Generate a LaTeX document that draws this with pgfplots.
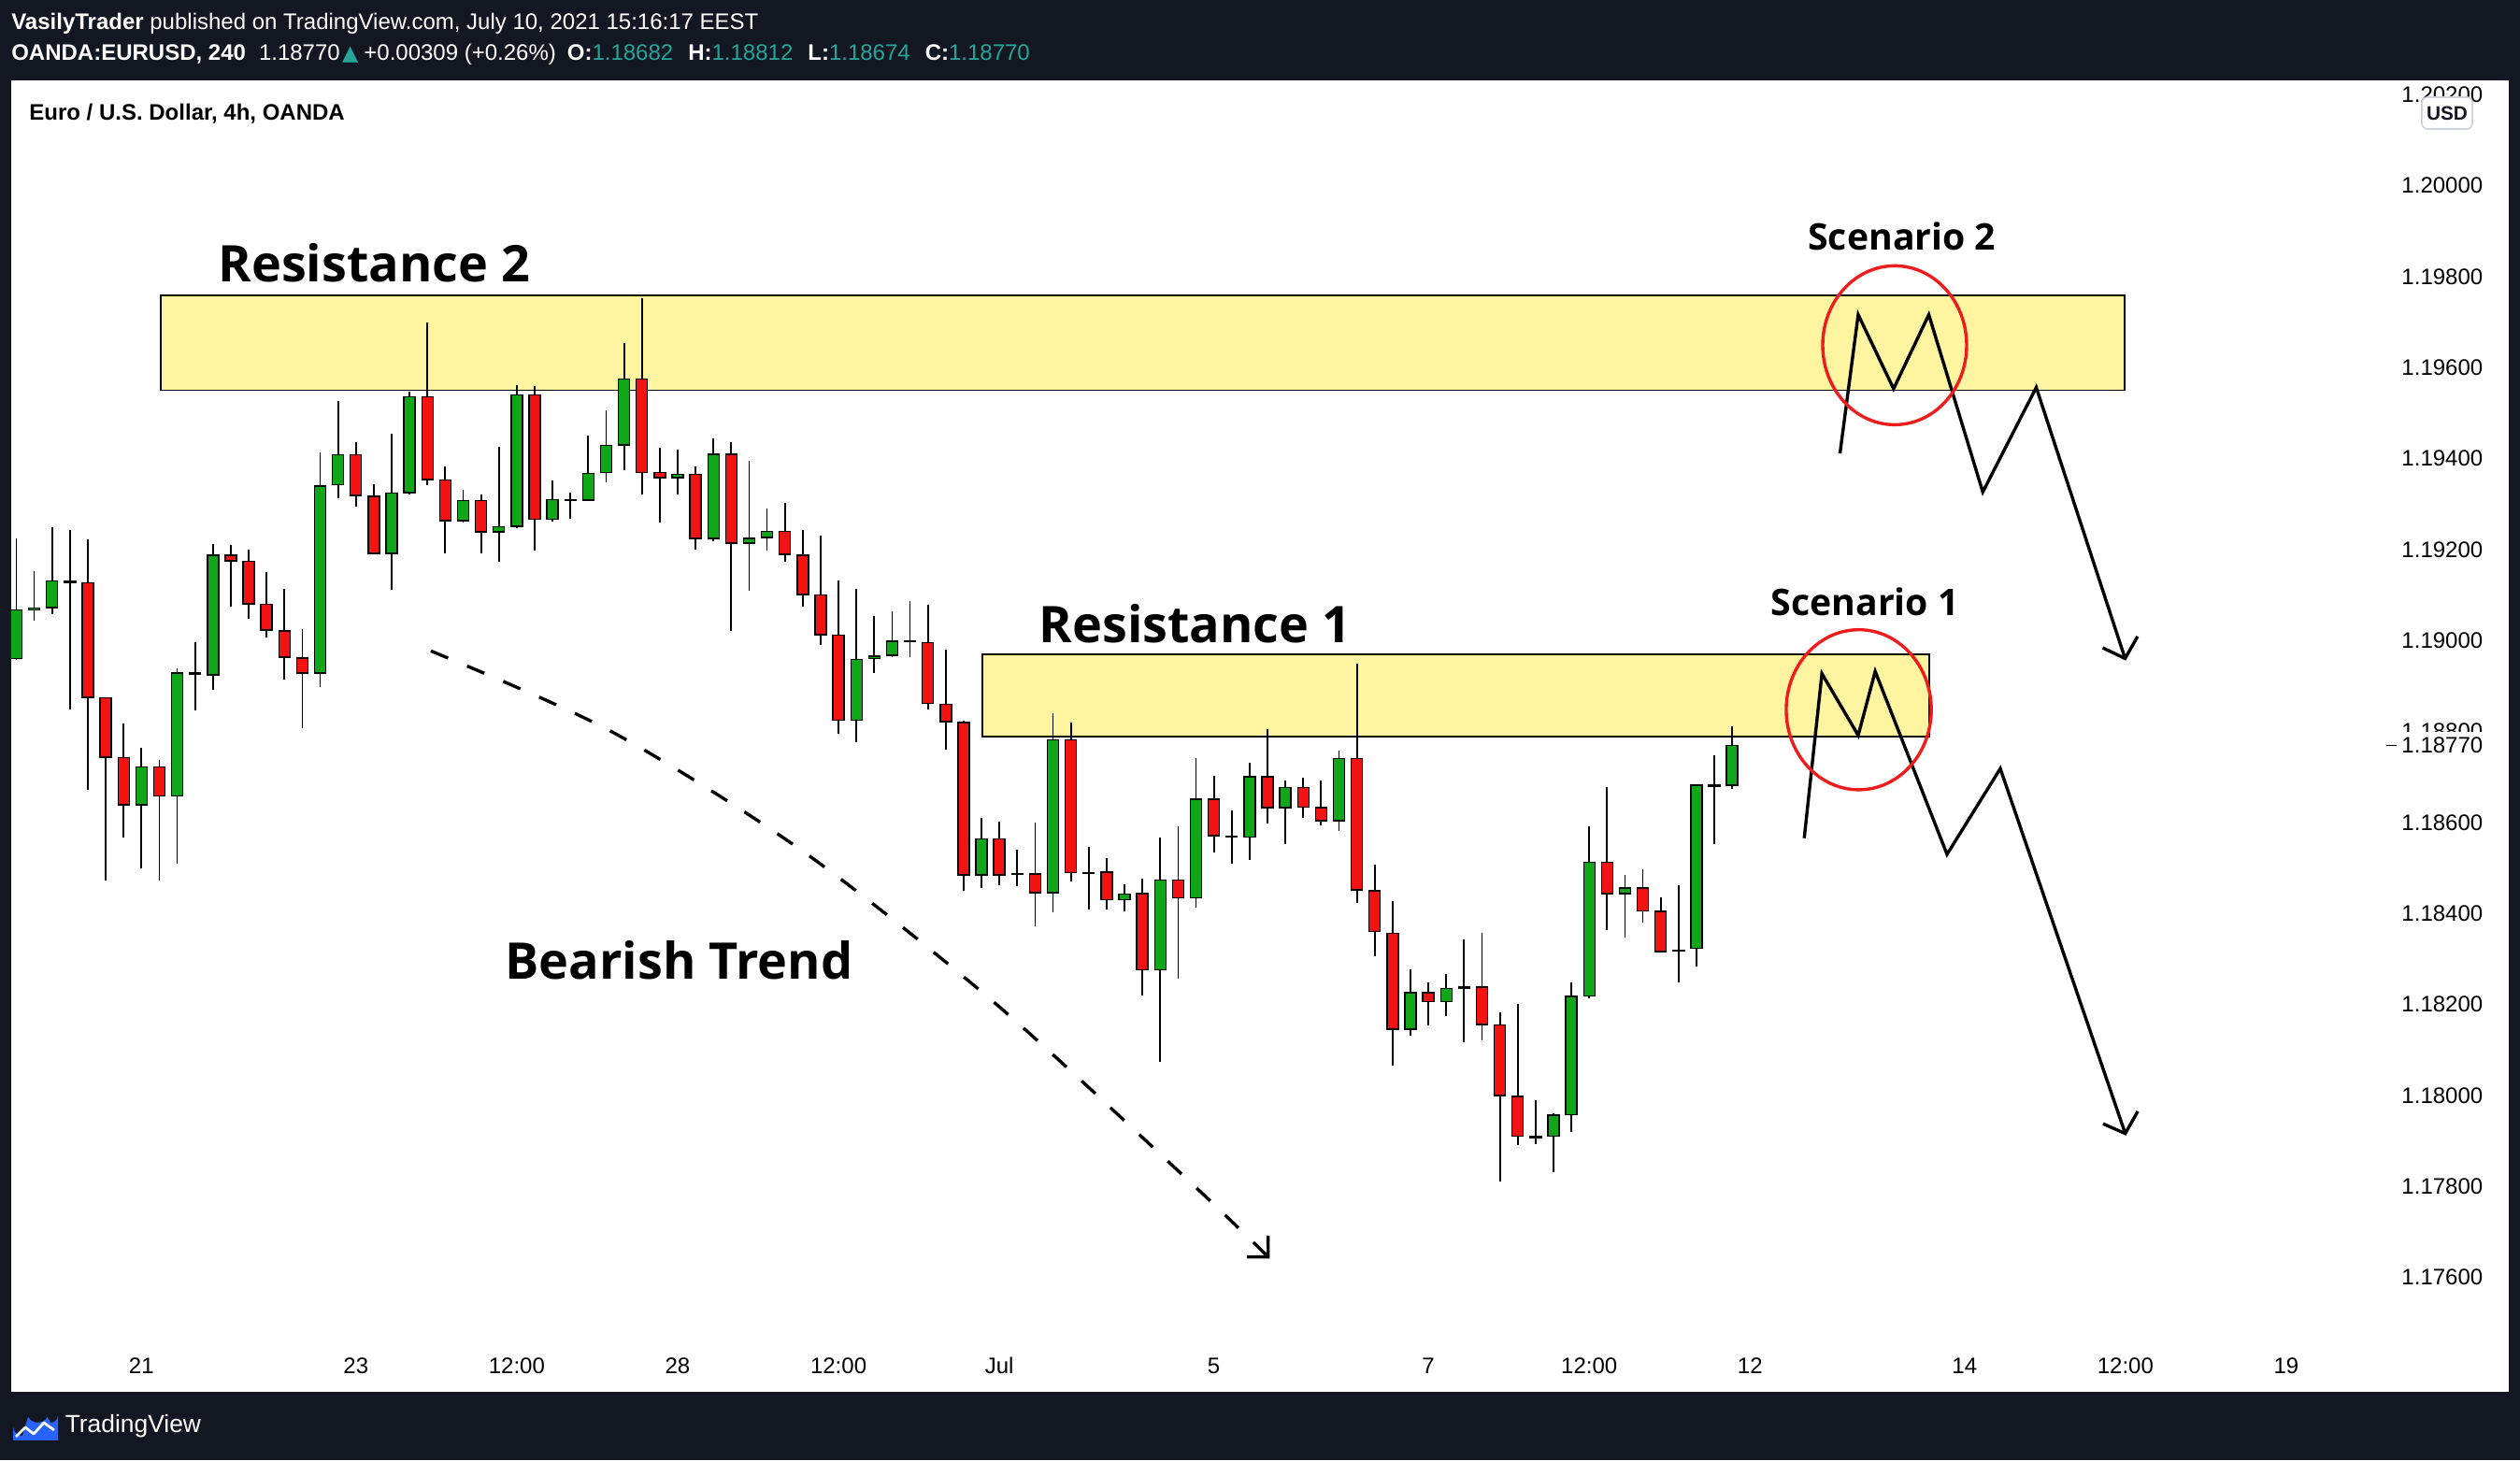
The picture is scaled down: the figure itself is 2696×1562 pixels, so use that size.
\documentclass[border=0pt]{standalone}
\usepackage{pgfplots}
\pgfplotsset{compat=1.18}
\usepackage{pgfplotstable}
\usepackage{fontspec}
\setmainfont{Liberation Sans}
\newfontfamily\annotfont{Open Sans}
\newfontfamily\symbfont{DejaVu Sans}
\usetikzlibrary{arrows.meta}

\definecolor{tvbg}{HTML}{131722}
\definecolor{cgreen}{RGB}{17,166,26}
\definecolor{cred}{RGB}{244,19,19}
\definecolor{boxy}{RGB}{255,245,160}
\definecolor{tealc}{HTML}{26A69A}
\definecolor{circred}{RGB}{238,28,28}
\definecolor{tvblue}{HTML}{2962FF}
\definecolor{usdgray}{HTML}{D1D4DC}

% 4h candles, index 0 = 21 Jun 00:00
\pgfplotstableread{
i O H L C
-7 1.18960 1.19225 1.18958 1.19067
-6 1.19067 1.19153 1.19043 1.19072
-5 1.19073 1.19249 1.19058 1.19131
-4 1.19130 1.19243 1.18849 1.19128
-3 1.19127 1.19222 1.18671 1.18875
-2 1.18874 1.18874 1.18472 1.18744
-1 1.18743 1.18818 1.18568 1.18639
0 1.18639 1.18764 1.18499 1.18722
1 1.18722 1.18737 1.18473 1.18658
2 1.18658 1.18938 1.18510 1.18929
3 1.18929 1.18996 1.18846 1.18926
4 1.18925 1.19212 1.18892 1.19188
5 1.19188 1.19210 1.19075 1.19175
6 1.19174 1.19200 1.19047 1.19081
7 1.19080 1.19151 1.19006 1.19023
8 1.19021 1.19114 1.18915 1.18964
9 1.18962 1.19025 1.18808 1.18929
10 1.18929 1.19413 1.18897 1.19340
11 1.19343 1.19526 1.19314 1.19408
12 1.19408 1.19436 1.19295 1.19319
13 1.19317 1.19343 1.19189 1.19192
14 1.19192 1.19454 1.19112 1.19324
15 1.19325 1.19548 1.19322 1.19536
16 1.19536 1.19699 1.19341 1.19354
17 1.19353 1.19382 1.19191 1.19264
18 1.19264 1.19331 1.19259 1.19308
19 1.19308 1.19321 1.19191 1.19239
20 1.19239 1.19427 1.19173 1.19250
21 1.19251 1.19561 1.19247 1.19540
22 1.19540 1.19560 1.19197 1.19267
23 1.19267 1.19352 1.19261 1.19310
24 1.19310 1.19325 1.19267 1.19308
25 1.19309 1.19451 1.19306 1.19367
26 1.19369 1.19506 1.19347 1.19429
27 1.19430 1.19655 1.19375 1.19575
28 1.19575 1.19753 1.19322 1.19370
29 1.19369 1.19424 1.19260 1.19358
30 1.19358 1.19420 1.19322 1.19365
31 1.19365 1.19383 1.19199 1.19225
32 1.19225 1.19445 1.19218 1.19410
33 1.19410 1.19436 1.19021 1.19214
34 1.19214 1.19395 1.19109 1.19225
35 1.19227 1.19290 1.19197 1.19240
36 1.19240 1.19302 1.19174 1.19190
37 1.19188 1.19243 1.19074 1.19101
38 1.19100 1.19231 1.18990 1.19013
39 1.19012 1.19132 1.18795 1.18825
40 1.18825 1.19114 1.18776 1.18958
41 1.18960 1.19054 1.18928 1.18966
42 1.18968 1.19064 1.18963 1.18999
43 1.18999 1.19086 1.18964 1.18997
44 1.18995 1.19079 1.18849 1.18862
45 1.18860 1.18980 1.18760 1.18822
46 1.18820 1.18823 1.18450 1.18485
47 1.18485 1.18611 1.18457 1.18564
48 1.18564 1.18601 1.18463 1.18485
49 1.18486 1.18540 1.18460 1.18488
50 1.18487 1.18599 1.18372 1.18446
51 1.18446 1.18840 1.18402 1.18782
52 1.18782 1.18819 1.18470 1.18490
53 1.18490 1.18546 1.18408 1.18488
54 1.18491 1.18522 1.18408 1.18430
55 1.18430 1.18464 1.18404 1.18443
56 1.18444 1.18476 1.18219 1.18276
57 1.18276 1.18568 1.18073 1.18474
58 1.18474 1.18591 1.18256 1.18434
59 1.18434 1.18742 1.18413 1.18651
60 1.18651 1.18703 1.18534 1.18571
61 1.18570 1.18626 1.18510 1.18568
62 1.18568 1.18731 1.18517 1.18701
63 1.18701 1.18806 1.18597 1.18633
64 1.18633 1.18692 1.18552 1.18677
65 1.18677 1.18698 1.18610 1.18634
66 1.18633 1.18692 1.18594 1.18604
67 1.18604 1.18758 1.18581 1.18741
68 1.18741 1.18950 1.18423 1.18452
69 1.18450 1.18508 1.18307 1.18360
70 1.18357 1.18427 1.18066 1.18146
71 1.18146 1.18278 1.18132 1.18226
72 1.18226 1.18248 1.18153 1.18207
73 1.18207 1.18266 1.18174 1.18235
74 1.18236 1.18343 1.18116 1.18238
75 1.18238 1.18358 1.18122 1.18156
76 1.18155 1.18182 1.17811 1.18000
77 1.17998 1.18201 1.17891 1.17910
78 1.17910 1.17989 1.17892 1.17907
79 1.17910 1.17960 1.17832 1.17957
80 1.17958 1.18249 1.17920 1.18218
81 1.18219 1.18591 1.18214 1.18512
82 1.18512 1.18677 1.18364 1.18444
83 1.18444 1.18484 1.18348 1.18456
84 1.18456 1.18498 1.18381 1.18406
85 1.18405 1.18435 1.18314 1.18316
86 1.18318 1.18463 1.18248 1.18320
87 1.18323 1.18685 1.18284 1.18682
88 1.18680 1.18747 1.18552 1.18682
89 1.18682 1.18812 1.18674 1.18770
}\candles

\pgfplotsset{chartgeom/.style={at={(3pt,18.25pt)}, anchor=south west,
  scale only axis, width=668pt, height=350.75pt,
  xmin=-7.286, xmax=132.45, ymin=348.4, ymax=3231.7, enlargelimits=false}}

\newcommand\tickfont{\fontsize{6}{7}\selectfont}
\newcommand\annotsize{\annotfont\bfseries\fontsize{13.5}{16}\selectfont}
\newcommand\scensize{\annotfont\bfseries\fontsize{9.8}{12}\selectfont}

\begin{document}
\begin{tikzpicture}
\begin{scope}[x=0.25pt,y=-0.25pt,yshift=390.5pt]
\fill[tvbg] (0,0) rectangle (2696,1562);
\fill[white] (12,86) rectangle (2684,1489);
\end{scope}

% ---------- main axis: zones, wicks, annotations, ticks
\begin{axis}[chartgeom,
  axis line style={draw=none}, major tick length=0pt, tick style={draw=none},
  ytick={600,800,1000,1200,1400,1600,1800,2000,2200,2400,2600,2800,3000,3200},
  yticklabels={1.17600,1.17800,1.18000,1.18200,1.18400,1.18600,1.18800,1.19000,1.19200,1.19400,1.19600,1.19800,1.20000,1.20200},
  yticklabel pos=right,
  yticklabel style={anchor=east, inner sep=0pt, xshift=-6.75pt, font=\tickfont, text=black},
  xtick={0,12,21,30,39,48,60,72,81,90,102,111,120},
  xticklabels={21,23,12:00,28,12:00,Jul,5,7,12:00,12,14,12:00,19},
  xticklabel style={anchor=base, inner sep=0pt, yshift=5pt, font=\tickfont, text=black},
]
% resistance zones
\addplot[fill=boxy, draw=black, line width=0.4pt] coordinates {(1.08,2550) (110.97,2550) (110.97,2759) (1.08,2759)} --cycle;
\addplot[fill=boxy, draw=black, line width=0.4pt] coordinates {(47.05,1789.4) (100.02,1789.4) (100.02,1969.9) (47.05,1969.9)} --cycle;

% wicks
\addplot[draw=none, mark=none, forget plot,
  error bars/.cd, y dir=plus, y explicit, error mark=none,
  error bar style={draw=black, solid, line width=0.45pt}]
  table[x=i, y expr={(\thisrow{L}-1.17)*100000}, y error expr={(\thisrow{H}-\thisrow{L})*100000}] {\candles};

% bearish trend dashed curve
\addplot[smooth, black, line width=0.85pt, dash pattern=on 5pt off 5.5pt,
  -{Straight Barb[length=4pt,width=8pt,line width=0.85pt]}]
  coordinates {(16.19,1977.3) (26.26,1800.8) (37.05,1535.6) (47.84,1200.1) (58.63,811.2) (63.13,641.7)};

% scenario 2
\addplot[black, line width=0.85pt, line join=miter] coordinates {(95.03,2411.5) (96.05,2716.5) (98.03,2553.7) (100.0,2716.5) (103.02,2326.7) (106.01,2556.6) (110.98,1960.7)};
\addplot[black, line width=0.85pt, line join=miter] coordinates {(109.73,1984.1) (110.98,1960.7) (111.68,2009.0)};
% scenario 1
\addplot[black, line width=0.85pt, line join=miter] coordinates {(93.03,1565.6) (94.02,1927.3) (96.05,1791.7) (97.0,1932.3) (101.02,1530.1) (104.0,1718.6) (110.99,916.3)};
\addplot[black, line width=0.85pt, line join=miter] coordinates {(109.75,937.7) (110.99,916.3) (111.69,965.0)};

\draw[circred, line width=0.85pt] (axis cs:98.09,2649.3) ellipse [x radius=19.25pt, y radius=21.25pt];
\draw[circred, line width=0.85pt] (axis cs:96.08,1848.0) ellipse [x radius=19.4pt, y radius=21.4pt];

\node[anchor=base, inner sep=0pt, font=\annotsize] at (axis cs:13.03,2788.4) {Resistance 2};
\node[anchor=base, inner sep=0pt, font=\annotsize] at (axis cs:58.95,1994.6) {Resistance 1};
\node[anchor=base, inner sep=0pt, font=\annotsize] at (axis cs:30.07,1255) {Bearish Trend};
\node[anchor=base, inner sep=0pt, font=\scensize] at (axis cs:98.5,2858.1) {Scenario 2};
\node[anchor=base, inner sep=0pt, font=\scensize] at (axis cs:96.43,2055.6) {Scenario 1};
\end{axis}

% ---------- candle bodies
\begin{axis}[chartgeom, hide axis, ybar stacked, bar width=3pt]
\addplot[draw=none, fill=none] table[x=i, y expr={(min(\thisrow{O},\thisrow{C})-1.17)*100000}] {\candles};
\addplot[fill=cgreen, draw=black, line width=0.35pt] table[x=i, y expr={max(\thisrow{C}-\thisrow{O},0)*100000}] {\candles};
\addplot[fill=cred, draw=black, line width=0.35pt] table[x=i, y expr={max(\thisrow{O}-\thisrow{C},0)*100000}] {\candles};
\end{axis}

% ---------- header, price label, logo
\begin{scope}[x=0.25pt,y=-0.25pt,yshift=390.5pt]
\node[anchor=base west, inner sep=0pt, text=white, font=\fontsize{6}{7}\selectfont] at (11.5,31.7)
  {\textbf{VasilyTrader} published on TradingView.com, July 10, 2021 15:16:17 EEST};
\node[anchor=base west, inner sep=0pt, text=white, font=\fontsize{6}{7}\selectfont] at (11.5,65)
  {\textbf{OANDA:EURUSD, 240}\hspace{3.5pt}1.18770\hspace{0.6pt}{\color{tealc}\symbfont\fontsize{5.6}{6}\selectfont ▲}\hspace{1.5pt}+0.00309 (+0.26\%)\hspace{3pt}\textbf{O:}{\color{tealc}1.18682}\hspace{4pt}\textbf{H:}{\color{tealc}1.18812}\hspace{4pt}\textbf{L:}{\color{tealc}1.18674}\hspace{4pt}\textbf{C:}{\color{tealc}1.18770}};
\node[anchor=base west, inner sep=0pt, text=black, font=\fontsize{6}{7}\selectfont\bfseries] at (30.6,128.3)
  {Euro / U.S. Dollar, 4h, OANDA};
% USD badge
\draw[usdgray, fill=white, rounded corners=1.5pt, line width=0.4pt] (2591,104) rectangle (2645,138);
\node[inner sep=0pt, text=tvbg, font=\fontsize{5.2}{6}\selectfont\bfseries] at (2618,121) {USD};
% current price label
\fill[white] (2568,783) rectangle (2664,812);
\draw[black, line width=0.3pt] (2553,797.3) -- (2564,797.3);
\node[anchor=east, inner sep=0pt, text=black, font=\tickfont] at (2657,797.3) {1.18770};
% TradingView logo
\fill[tvblue] (14,1541) -- (14,1526) arc[start angle=180, end angle=90, radius=10] -- (30,1516) arc[start angle=150, end angle=30, radius=12] -- (54,1522) arc[start angle=90, end angle=0, radius=8] -- (62,1541) -- cycle;
\draw[white, line width=0.7pt, line join=round] (17,1537) -- (27,1527) -- (36,1534) -- (47,1522) -- (58,1530);
\node[anchor=base west, inner sep=0pt, text=white, font=\fontsize{6.6}{8}\selectfont] at (69,1533) {TradingView};
\end{scope}
\end{tikzpicture}
\end{document}
